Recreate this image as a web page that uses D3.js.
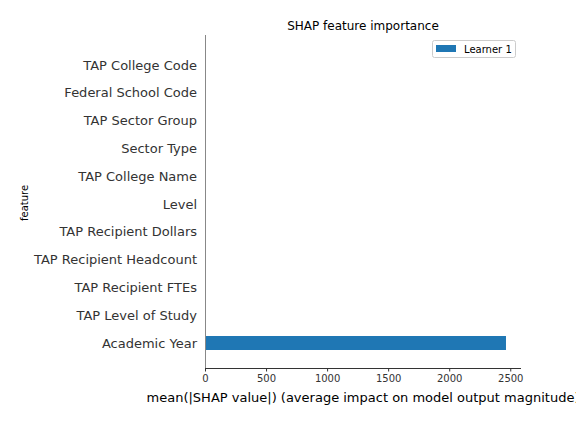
<!DOCTYPE html>
<html><head><meta charset="utf-8">
<script src="https://cdn.jsdelivr.net/npm/d3@7/dist/d3.min.js"></script>
<style>body{margin:0;background:#fff}svg{display:block;font-family:"DejaVu Sans",sans-serif}</style>
</head><body><svg id="c" width="576" height="424"></svg>
<script>
const features = ["TAP College Code","Federal School Code","TAP Sector Group","Sector Type","TAP College Name","Level","TAP Recipient Dollars","TAP Recipient Headcount","TAP Recipient FTEs","TAP Level of Study","Academic Year"];
const values = [0,0,0,0,0,0,0,0,0,0,2465];
const xTicks = [0,500,1000,1500,2000,2500];
const seriesName = "Learner 1";

const svg = d3.select("#c");
const L = 205, R = 521, T = 35, B = 368;
const x = d3.scaleLinear().domain([0, 2588]).range([L, R]);
const y = d3.scaleBand().domain(features).range([51, 357]).paddingInner(0.5).paddingOuter(0.25);
const rowY = d3.scalePoint().domain(features).range([65, 343]);

svg.append("g").selectAll("rect").data(features).join("rect")
  .attr("x", x(0)).attr("y", d => rowY(d) - 7)
  .attr("width", (d,i) => x(values[i]) - x(0)).attr("height", 14)
  .attr("fill", "#1f77b4");

// y axis
svg.append("line").attr("x1", L+0.5).attr("x2", L+0.5).attr("y1", T).attr("y2", B).attr("stroke", "#888").attr("stroke-width", 1);
svg.append("g").selectAll("text").data(features).join("text")
  .attr("x", 197).attr("y", d => rowY(d)).attr("dy", "0.35em")
  .attr("text-anchor", "end").attr("font-size", 13).attr("fill", "#333").text(d => d);

// x axis
const xa = svg.append("g").attr("transform", `translate(0,${B})`)
  .call(d3.axisBottom(x).tickValues(xTicks).tickSize(3.5).tickPadding(3).tickFormat(d3.format("d")));
xa.select(".domain").attr("stroke", "#333").attr("d", `M${L},0.5H${R}`);
xa.selectAll(".tick line").attr("stroke", "#333");
xa.selectAll(".tick text").attr("font-size", 10).attr("fill", "#333").attr("font-family", "DejaVu Sans");

svg.append("text").attr("x", 363).attr("y", 402).attr("text-anchor", "middle")
  .attr("font-size", 13).attr("fill", "#000")
  .text("mean(|SHAP value|) (average impact on model output magnitude)");

svg.append("text").attr("transform", "translate(28,203) rotate(-90)").attr("text-anchor", "middle")
  .attr("font-size", 10).attr("fill", "#000").text("feature");

svg.append("text").attr("x", 363).attr("y", 30).attr("text-anchor", "middle")
  .attr("font-size", 12).attr("fill", "#000").text("SHAP feature importance");

// legend
const lg = svg.append("g");
lg.append("rect").attr("x", 432.5).attr("y", 40.5).attr("width", 83).attr("height", 17).attr("rx", 2)
  .attr("fill", "#fff").attr("stroke", "#ccc");
lg.append("rect").attr("x", 436).attr("y", 45).attr("width", 20).attr("height", 7).attr("fill", "#1f77b4");
lg.append("text").attr("x", 464).attr("y", 49).attr("dy", "0.35em").attr("font-size", 10).attr("fill", "#000").text(seriesName);
</script></body></html>
